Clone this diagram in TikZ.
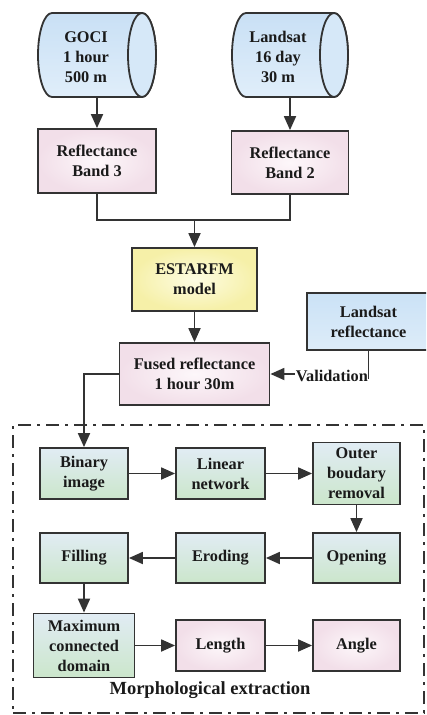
\documentclass[tikz,border=0pt]{standalone}
\usepackage{fontspec}
\setmainfont{Liberation Serif}
\usetikzlibrary{arrows.meta}
\definecolor{bord}{HTML}{333333}
\definecolor{txt}{HTML}{1A1A1A}
\definecolor{cyltop}{HTML}{C9E0F5}
\definecolor{cylbot}{HTML}{E0EEFA}
\definecolor{cylcap}{HTML}{D6E8F8}
\definecolor{pinkin}{HTML}{FDF7FA}
\definecolor{pinkout}{HTML}{F2DFE9}
\definecolor{yelin}{HTML}{FDFCE2}
\definecolor{yelout}{HTML}{F6F0A8}
\definecolor{greentop}{HTML}{E1ECF4}
\definecolor{greenbot}{HTML}{CBE6CB}
\definecolor{bluetop}{HTML}{CBE2F6}
\definecolor{bluebot}{HTML}{DDECF9}
\begin{document}
\begin{tikzpicture}[x=1pt,y=1pt,
  ftxt/.style={font=\bfseries\fontsize{16.3}{20}\selectfont, text=txt},
  box/.style={draw=bord, line width=1.8pt, align=center, ftxt, inner sep=0pt},
  pinkbox/.style={box, inner color=pinkin, outer color=pinkout},
  yelbox/.style={box, inner color=yelin, outer color=yelout},
  greenbox/.style={box, top color=greentop, bottom color=greenbot},
  bluebox/.style={box, top color=bluetop, bottom color=bluebot},
  cylbody/.style={minimum width=118pt, minimum height=84pt, inner sep=0pt},
  cylfill/.style={draw=bord, line width=1.8pt, top color=cyltop, bottom color=cylbot},
  ln/.style={draw=bord, line width=1.8pt},
  arr/.style={ln, -{Triangle[length=14pt,width=12pt]}},
  frame/.style={draw=bord, line width=2pt, dash pattern=on 13pt off 6pt on 3pt off 6pt, minimum width=411pt, minimum height=288pt, inner sep=0pt}
]
\useasboundingbox (0,0) rectangle (426,-715);
\clip (0,0) rectangle (426,-715);

% cylinders
\path[cylfill] (142,-13) -- (52,-13) arc[start angle=90,end angle=270,x radius=14,y radius=42] -- (142,-97) arc[start angle=-90,end angle=90,x radius=14,y radius=42] -- cycle;
\draw[line width=1.8pt, draw=bord, fill=cylcap] (142,-55) ellipse[x radius=14,y radius=42];
\node[cylbody] (goci) at (97,-55) {};
\node[ftxt, align=center] (gocit) at (86,-57) {GOCI\\1 hour\\500 m};

\path[cylfill] (334,-13) -- (246,-13) arc[start angle=90,end angle=270,x radius=14,y radius=42] -- (334,-97) arc[start angle=-90,end angle=90,x radius=14,y radius=42] -- cycle;
\draw[line width=1.8pt, draw=bord, fill=cylcap] (334,-55) ellipse[x radius=14,y radius=42];
\node[cylbody, minimum width=116pt] (lsat) at (290,-55) {};
\node[ftxt, align=center] (lsatt) at (278,-57) {Landsat\\16 day\\30 m};

% boxes
\node[pinkbox, minimum width=118pt, minimum height=64pt] (b3) at (97,-161) {Reflectance\\Band 3};
\node[pinkbox, minimum width=117pt, minimum height=63pt] (b2) at (290,-162.5) {Reflectance\\Band 2};
\node[yelbox, minimum width=125pt, minimum height=63pt] (est) at (194.5,-279.5) {ESTARFM\\model};
\node[pinkbox, minimum width=150pt, minimum height=62pt] (fused) at (194.5,-374) {Fused reflectance\\1 hour 30m};
\node[bluebox, minimum width=123pt, minimum height=57pt] (lr) at (368.5,-321.5) {Landsat\\reflectance};

% morphological frame
\node[frame] (mf) at (218.5,-569) {};
\node[font=\bfseries\fontsize{18.5}{22}\selectfont, text=txt] (mlab) at (210,-690) {Morphological extraction};

\node[greenbox, minimum width=88pt, minimum height=51pt] (bin) at (84,-473.5) {Binary\\image};
\node[greenbox, minimum width=89pt, minimum height=51pt] (lin) at (220.5,-473.5) {Linear\\network};
\node[greenbox, minimum width=87pt, minimum height=62pt] (outer) at (356.5,-473.5) {Outer\\boudary\\removal};
\node[greenbox, minimum width=87pt, minimum height=50pt] (open) at (356.5,-558) {Opening};
\node[greenbox, minimum width=89pt, minimum height=50pt] (erod) at (220.5,-558) {Eroding};
\node[greenbox, minimum width=88pt, minimum height=50pt] (fill) at (84,-558) {Filling};
\node[greenbox, minimum width=101pt, minimum height=64pt] (max) at (84,-645.5) {Maximum\\connected\\domain};
\node[pinkbox, minimum width=89pt, minimum height=51pt] (len) at (220.5,-645.5) {Length};
\node[pinkbox, minimum width=87pt, minimum height=51pt] (ang) at (356.5,-645.5) {Angle};

% connectors
\draw[arr] (goci.south) -- (b3.north);
\draw[arr] (lsat.south) -- (b2.north);
\coordinate (m) at (194.5,-220);
\draw[ln] (b3.south) |- (m);
\draw[ln] (b2.south) |- (m);
\draw[arr] (m) -- (est.north);
\draw[arr] (est.south) -- (fused.north);
\coordinate (vc) at (lr.south |- fused.east);
\draw[ln] (lr.south) -- ([yshift=-5pt]vc);
\draw[arr] (vc) -- (fused.east);
\node[ftxt, fill=white, inner sep=0.5pt, anchor=east] (val) at ([yshift=-1.5pt]vc) {Validation};
\draw[arr] (fused.west) -| (bin.north);

\draw[arr] (bin.east) -- (lin.west);
\draw[arr] (lin.east) -- (outer.west);
\draw[arr] (outer.south) -- (open.north);
\draw[arr] (open.west) -- (erod.east);
\draw[arr] (erod.west) -- (fill.east);
\draw[arr] (fill.south) -- (max.north);
\draw[arr] (max.east) -- (len.west);
\draw[arr] (len.east) -- (ang.west);
\end{tikzpicture}
\end{document}
